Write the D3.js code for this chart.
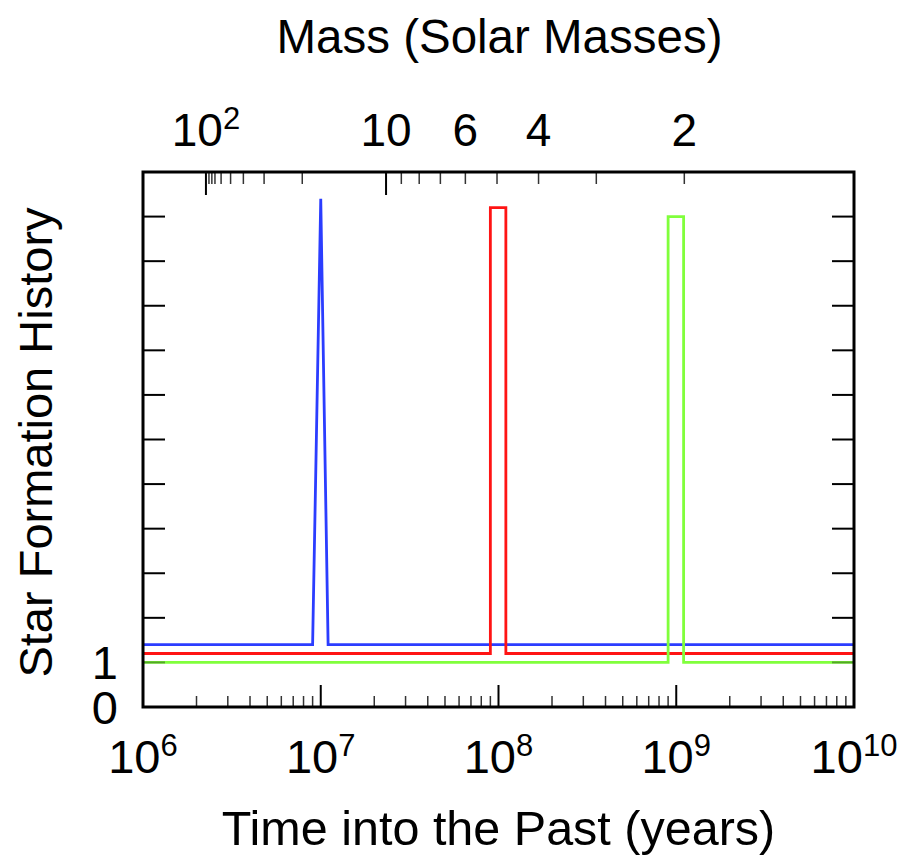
<script src="https://d3js.org/d3.v7.min.js"></script>
<body style="margin:0;background:#fff">
    <div id="chart"></div>
</body>
<style>
text {
  font-family: "Liberation Sans", Arial, sans-serif;
  fill: #000;
}
.frame {
  fill: none;
  stroke: #000;
  stroke-width: 3px;
}
.tick-major {
  stroke: #000;
  stroke-width: 2px;
}
.tick-minor {
  stroke: #333;
  stroke-width: 1.5px;
}
.sfh {
  fill: none;
  stroke-width: 2.8px;
  stroke-linejoin: miter;
}
</style>

<script>
// bottom axis: time into the past (years), log scale
var timeDecades = [1e6, 1e7, 1e8, 1e9, 1e10];
var timeExponents = ["6", "7", "8", "9", "10"];

// top axis: stellar mass (solar masses) placed at the matching lifetime
var massTicks = [100, 90, 80, 70, 60, 50, 40, 30, 20, 10, 9, 8, 7, 6, 5, 4, 3, 2];
var massAges = [2.26e6, 2.35e6, 2.44e6, 2.54e6, 2.75e6, 3.11e6, 3.67e6, 4.80e6, 7.87e6,
                2.33e7, 2.84e7, 3.58e7, 4.71e7, 6.51e7, 9.81e7, 1.68e8, 3.55e8, 1.11e9];
var massMajor = [100, 10];
var massLabelled = [100, 10, 6, 4, 2];

// left/right axis: star formation history
var sfhTicks = [0, 1, 2, 3, 4, 5, 6, 7, 8, 9, 10, 11, 12];
var sfhLabels = [0, 1];

// the three bursts
var blueAge = [1e6, 9e6, 1e7, 1.1e7, 1e10];
var blueSfh = [1.4, 1.4, 11.4, 1.4, 1.4];
var redAge = [1e6, 9e7, 9e7, 1.1e8, 1.1e8, 1e10];
var redSfh = [1.2, 1.2, 11.2, 11.2, 1.2, 1.2];
var greenAge = [1e6, 9e8, 9e8, 1.1e9, 1.1e9, 1e10];
var greenSfh = [1, 1, 11, 11, 1, 1];

var W = 903, H = 855;
var margin = {top: 172, right: 49, bottom: 148, left: 143};
var width = W - margin.left - margin.right,
    height = H - margin.top - margin.bottom;

var x = d3.scaleLog().domain([1e6, 1e10]).range([0, width]);
var y = d3.scaleLinear().domain([0, 12]).range([height, 0]);

var svg = d3.select("#chart").append("svg")
  .attr("width", W)
  .attr("height", H);

var g = svg.append("g")
  .attr("transform", "translate(" + margin.left + "," + margin.top + ")");

// burst lines
var line = d3.line()
  .x(function(d) { return x(d[0]); })
  .y(function(d) { return y(d[1]); });

var series = [
  {age: blueAge, sfh: blueSfh, color: "#2b3dff"},
  {age: redAge, sfh: redSfh, color: "#ff1414"},
  {age: greenAge, sfh: greenSfh, color: "#80ff3c"}
];

g.selectAll(".sfh")
  .data(series)
  .enter().append("path")
  .attr("class", "sfh")
  .attr("stroke", function(d) { return d.color; })
  .attr("d", function(d) { return line(d.age.map(function(a, i) { return [a, d.sfh[i]]; })); });

// bottom ticks (major decades + minor 2..9)
var minorTime = [];
timeDecades.slice(0, -1).forEach(function(dec) {
  for (var k = 2; k <= 9; k++) minorTime.push(dec * k);
});

g.append("g").selectAll("line")
  .data(minorTime)
  .enter().append("line")
  .attr("class", "tick-minor")
  .attr("x1", function(d) { return x(d); })
  .attr("x2", function(d) { return x(d); })
  .attr("y1", height)
  .attr("y2", height - 11);

g.append("g").selectAll("line")
  .data(timeDecades)
  .enter().append("line")
  .attr("class", "tick-major")
  .attr("x1", function(d) { return x(d); })
  .attr("x2", function(d) { return x(d); })
  .attr("y1", height)
  .attr("y2", height - 22);

// top ticks (mass)
g.append("g").selectAll("line")
  .data(massTicks)
  .enter().append("line")
  .attr("class", function(d) { return massMajor.indexOf(d) >= 0 ? "tick-major" : "tick-minor"; })
  .attr("x1", function(d, i) { return x(massAges[i]); })
  .attr("x2", function(d, i) { return x(massAges[i]); })
  .attr("y1", 0)
  .attr("y2", function(d) { return massMajor.indexOf(d) >= 0 ? 23 : 12; });

// left + right ticks
[0, width].forEach(function(side) {
  g.append("g").selectAll("line")
    .data(sfhTicks)
    .enter().append("line")
    .attr("class", "tick-major")
    .attr("stroke-opacity", function(d) { return d === 1 ? 0.35 : 1; })
    .attr("x1", side)
    .attr("x2", side === 0 ? 22 : width - 22)
    .attr("y1", function(d) { return y(d); })
    .attr("y2", function(d) { return y(d); });
});

g.append("rect")
  .attr("class", "frame")
  .attr("width", width)
  .attr("height", height);

// bottom labels 10^n
var bl = g.append("g").selectAll("text")
  .data(timeDecades)
  .enter().append("text")
  .attr("x", function(d) { return x(d); })
  .attr("y", height + 66)
  .attr("text-anchor", "middle")
  .style("font-size", "47px");
bl.append("tspan").text("10");
bl.append("tspan")
  .attr("dy", "-0.55em")
  .style("font-size", "31px")
  .text(function(d, i) { return timeExponents[i]; });

// top mass labels
var tl = g.append("g").selectAll("text")
  .data(massLabelled)
  .enter().append("text")
  .attr("x", function(d) { return x(massAges[massTicks.indexOf(d)]); })
  .attr("y", -26)
  .attr("text-anchor", "middle")
  .style("font-size", "46px");
tl.append("tspan").text(function(d) { return d === 100 ? "10" : d; });
tl.filter(function(d) { return d === 100; })
  .append("tspan")
  .attr("dy", "-0.55em")
  .style("font-size", "31px")
  .text("2");

// left labels 0, 1
g.append("g").selectAll("text")
  .data(sfhLabels)
  .enter().append("text")
  .attr("x", -25)
  .attr("y", function(d) { return y(d) + 17; })
  .attr("text-anchor", "end")
  .style("font-size", "47px")
  .text(function(d) { return d; });

// titles
svg.append("text")
  .attr("x", margin.left + width / 2 + 1)
  .attr("y", 53)
  .attr("text-anchor", "middle")
  .style("font-size", "47.5px")
  .text("Mass (Solar Masses)");

svg.append("text")
  .attr("x", margin.left + width / 2)
  .attr("y", 845)
  .attr("text-anchor", "middle")
  .style("font-size", "48.5px")
  .text("Time into the Past (years)");

svg.append("text")
  .attr("transform", "translate(52," + (margin.top + height / 2 + 3) + ") rotate(-90)")
  .attr("text-anchor", "middle")
  .style("font-size", "47px")
  .text("Star Formation History");
</script>
